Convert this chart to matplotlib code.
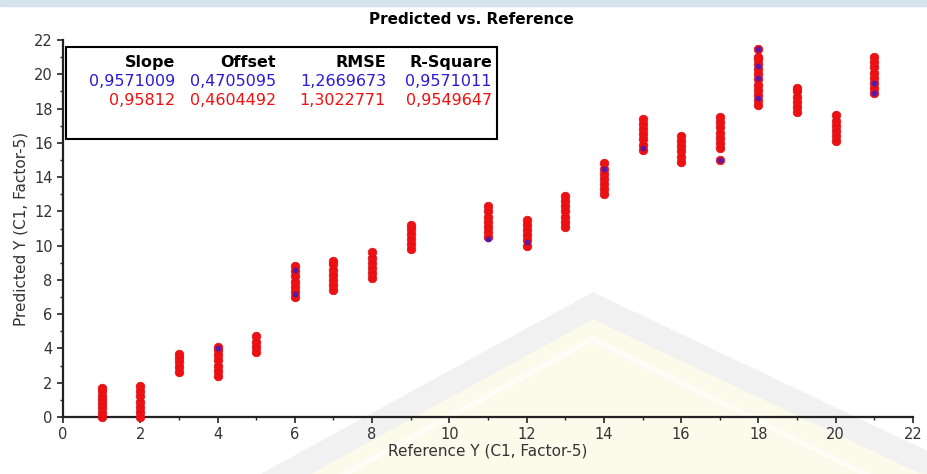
import matplotlib
matplotlib.use("Agg")
import matplotlib.pyplot as plt
from matplotlib.patches import Polygon, Rectangle
from matplotlib.ticker import MultipleLocator

# validation (red): predicted values stacked on each reference value
ref_levels = [1, 2, 3, 4, 5, 6, 7, 8, 9, 11, 12, 13, 14, 15, 16, 17, 18, 19, 20, 21]
pred_red = [
    [0.0, 0.25, 0.5, 0.75, 1.0, 1.25, 1.5, 1.7],
    [0.0, 0.3, 0.6, 0.9, 1.2, 1.5, 1.8],
    [2.6, 2.9, 3.2, 3.45, 3.7],
    [2.4, 2.7, 3.0, 3.3, 3.6, 3.9, 4.1],
    [3.8, 4.1, 4.4, 4.7],
    [7.0, 7.3, 7.6, 7.9, 8.2, 8.5, 8.8],
    [7.4, 7.7, 8.0, 8.3, 8.6, 8.9, 9.1],
    [8.1, 8.4, 8.7, 9.0, 9.3, 9.6],
    [9.8, 10.1, 10.4, 10.7, 11.0, 11.2],
    [10.5, 10.8, 11.1, 11.4, 11.7, 12.0, 12.3],
    [10.0, 10.3, 10.6, 10.9, 11.2, 11.5],
    [11.1, 11.4, 11.7, 12.0, 12.3, 12.6, 12.9],
    [13.0, 13.3, 13.6, 13.9, 14.2, 14.5, 14.8],
    [15.6, 15.9, 16.2, 16.5, 16.8, 17.1, 17.4],
    [14.9, 15.2, 15.5, 15.8, 16.1, 16.4],
    [15.0, 15.7, 16.0, 16.3, 16.6, 16.9, 17.2, 17.5],
    [18.2, 18.5, 18.8, 19.1, 19.4, 19.7, 20.0, 20.3, 20.6, 20.9, 21.0, 21.5],
    [17.8, 18.1, 18.4, 18.7, 19.0, 19.2],
    [16.1, 16.4, 16.7, 17.0, 17.3, 17.6],
    [18.9, 19.2, 19.5, 19.8, 20.1, 20.4, 20.7, 21.0],
]

# calibration (blue): only the points that show through
ref_blue = [4, 6, 6, 11, 12, 14, 15, 17, 18, 18, 18, 18, 21, 21]
pred_blue = [4.0, 8.6, 7.2, 10.4, 10.2, 14.5, 15.7, 15.0, 21.5, 20.5, 19.8, 18.6, 19.5, 18.9]

headers = ["Slope", "Offset", "RMSE", "R-Square"]
stats_blue = ["0,9571009", "0,4705095", "1,2669673", "0,9571011"]
stats_red = ["0,95812", "0,4604492", "1,3022771", "0,9549647"]

RED = "#f01010"
BLUE = "#2a1ad6"

fig = plt.figure(figsize=(9.28, 4.74), dpi=100)
W, H = 928, 474

# light header strip and faint watermark behind the plot
fig.patches.append(Rectangle((0, 1 - 6 / H), 1, 6 / H, transform=fig.transFigure,
                             color="#d6e2ee", zorder=-5))
def px(pts):
    return [(x / W, 1 - y / H) for x, y in pts]
fig.patches.append(Polygon(px([(593, 293), (262, 474), (928, 474), (928, 452)]),
                           transform=fig.transFigure, color="#f1f1f1", zorder=-5))
fig.patches.append(Polygon(px([(593, 320), (312, 474), (928, 474), (928, 478)]),
                           transform=fig.transFigure, color="#fcfaea", zorder=-4))
fig.patches.append(Polygon(px([(593, 336), (340, 474), (870, 474)]),
                           transform=fig.transFigure, color="#fefdf6", zorder=-3))
fig.patches.append(Polygon(px([(593, 343), (352, 474), (858, 474)]),
                           transform=fig.transFigure, color="#fcfaea", zorder=-3))

ax = fig.add_axes([63 / W, 1 - 417 / H, 850 / W, 377 / H], zorder=2)
ax.set_facecolor("none")

for ref, vals in zip(ref_levels, pred_red):
    ax.plot([ref] * len(vals), vals, "o", color=RED, markersize=6.2,
            markeredgecolor="#d8101c", markeredgewidth=0.5, zorder=3, clip_on=False)
ax.plot(ref_blue, pred_blue, "o", color=BLUE, markersize=4.2, alpha=0.75,
        markeredgewidth=0, zorder=4, clip_on=False)

ax.set_xlim(0, 22)
ax.set_ylim(0, 22)
ax.xaxis.set_major_locator(MultipleLocator(2))
ax.yaxis.set_major_locator(MultipleLocator(2))
ax.xaxis.set_minor_locator(MultipleLocator(1))
ax.yaxis.set_minor_locator(MultipleLocator(1))
ax.tick_params(which="major", length=4, width=1.2, labelsize=10.5, color="#222222",
               labelcolor="#333333")
ax.tick_params(which="minor", length=2.5, width=1, color="#222222")
for s in ["top", "right"]:
    ax.spines[s].set_visible(False)
for s in ["left", "bottom"]:
    ax.spines[s].set_linewidth(1.6)
    ax.spines[s].set_color("#222222")

ax.set_xlabel("Reference Y (C1, Factor-5)", fontsize=11, labelpad=1, color="#333333")
ax.set_ylabel("Predicted Y (C1, Factor-5)", fontsize=11, labelpad=4, color="#333333")

fig.text(471 / W, 1 - 19 / H, "Predicted vs. Reference", ha="center", va="center",
         fontsize=11, fontweight="bold", family=["Liberation Sans Narrow", "DejaVu Sans"])

# statistics box
ax.add_patch(Rectangle((0.003, 0.737), 0.508, 0.244, transform=ax.transAxes,
                       facecolor="white", edgecolor="black", linewidth=1.5, zorder=5))
col_x = [175, 276, 386, 492]
row_y = [62, 81, 100]
for i in range(4):
    xa = (col_x[i] - 63) / 850
    ax.text(xa, (417 - row_y[0]) / 377, headers[i], transform=ax.transAxes, ha="right",
            va="center", fontsize=11.5, fontweight="bold", zorder=6)
    ax.text(xa, (417 - row_y[1]) / 377, stats_blue[i], transform=ax.transAxes, ha="right",
            va="center", fontsize=11.5, color=BLUE, zorder=6)
    ax.text(xa, (417 - row_y[2]) / 377, stats_red[i], transform=ax.transAxes, ha="right",
            va="center", fontsize=11.5, color=RED, zorder=6)

fig.savefig("out.png", dpi=100)
